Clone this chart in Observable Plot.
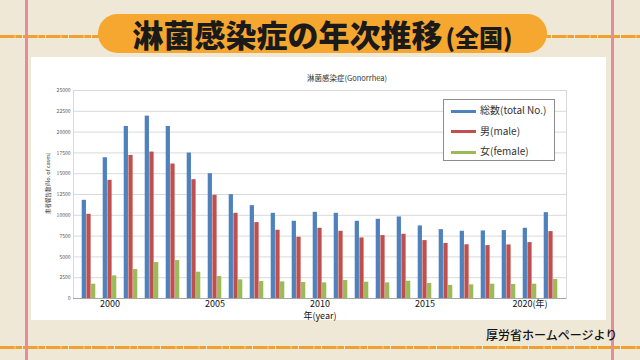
<!DOCTYPE html>
<html><head><meta charset="utf-8">
<script src="https://cdn.jsdelivr.net/npm/d3@7"></script>
<script src="https://cdn.jsdelivr.net/npm/@observablehq/plot@0.6"></script>
<style>
html,body{margin:0;padding:0;}
body{width:640px;height:360px;position:relative;overflow:hidden;background:#efe8d7;font-family:"Noto Sans CJK JP","Noto Sans",sans-serif;}
.vline{position:absolute;top:0;width:3px;height:360px;background:#e58c9c;}
.hline{position:absolute;left:0;width:640px;height:3px;background:repeating-linear-gradient(90deg,#f0a02c 0 14px,#f5b85a 14px 16px,#f0a02c 16px 22px,#efe8d7 22px 23px);}
#pill{position:absolute;left:98px;top:14px;width:449px;height:39px;border-radius:20px;background:#f6a72f;}
#title{position:absolute;left:98px;top:14px;width:449px;height:39px;line-height:39px;text-align:center;font-weight:900;font-size:31px;color:#1a1a1a;white-space:nowrap;}
#title small{font-size:24px;font-weight:900;margin-left:3px;}
#panel{position:absolute;left:31px;top:57px;width:575px;height:263px;background:#fff;}
#chart{position:absolute;left:31px;top:57px;}
#legend{position:absolute;left:443px;top:99px;width:110px;height:60px;border:1px solid #8c8c8c;background:#fff;font-size:10px;color:#333;}
.row{position:absolute;left:7px;height:14px;line-height:14px;white-space:nowrap;}
.sw{display:inline-block;width:25px;height:3px;vertical-align:middle;margin-right:4px;}
#caption{position:absolute;left:486px;top:326px;font-size:12px;font-weight:500;color:#111;white-space:nowrap;}
#ctitle{position:absolute;left:257px;top:72px;width:180px;text-align:center;font-size:7.5px;color:#333;}
#ylab{position:absolute;left:44px;top:214px;font-size:5.5px;color:#333;transform:rotate(-90deg);transform-origin:left top;white-space:nowrap;}
#xlab{position:absolute;left:270px;top:311px;width:100px;height:10px;line-height:10px;text-align:center;font-size:9px;color:#111;}
</style></head>
<body>
<div class="hline" style="top:35px"></div>
<div class="hline" style="top:346px"></div>
<div class="vline" style="left:25px"></div>
<div class="vline" style="left:611px"></div>
<div id="pill"></div>
<div id="title">淋菌感染症の年次推移<small>(全国)</small></div>
<div id="panel"></div>
<div id="chart"></div>
<div id="ctitle">淋菌感染症(Gonorrhea)</div>
<div id="ylab">患者報告数(No. of cases)</div>
<div id="xlab">年(year)</div>
<div id="legend"></div>
<div id="caption">厚労省ホームページより</div>
<script>
const years = [1999,2000,2001,2002,2003,2004,2005,2006,2007,2008,2009,2010,2011,2012,2013,2014,2015,2016,2017,2018,2019,2020,2021];
const total = [11800,16920,20680,21920,20680,17480,15000,12480,11160,10240,9280,10360,10240,9280,9520,9800,8720,8280,8080,8120,8160,8440,10320];
const male = [10120,14200,17200,17600,16160,14280,12400,10240,9120,8200,7360,8440,8080,7280,7560,7720,6960,6620,6460,6360,6440,6720,8040];
const female = [1720,2720,3480,4320,4560,3160,2640,2240,2040,2000,1920,1880,2160,1960,1880,2080,1800,1580,1640,1720,1680,1720,2280];
const seriesNames = ["総数(total No.)","男(male)","女(female)"];
const seriesColors = ["#4f81bd","#c0504d","#9bbb59"];
const yTicks = [0,2500,5000,7500,10000,12500,15000,17500,20000,22500,25000];
const labeledYears = [2000,2005,2010,2015,2020];

const rows = years.map((y,i)=>({year:y,total:total[i],male:male[i],female:female[i]}));

const W = 575, H = 263;
const mL = 42, mR = 40, mT = 33, mB = 22;
const step = (W - mL - mR) / years.length;
const bw = step * 0.218;
const outer = (step - 3*bw)/2;

const keys = ["total","male","female"];
const bars = keys.map((k,j)=>Plot.barY(rows,{
  x:"year", y:k, fill:seriesColors[j],
  insetLeft: outer + j*bw, insetRight: step - outer - (j+1)*bw
}));

const chart = Plot.plot({
  width:W, height:H, marginLeft:mL, marginRight:mR, marginTop:mT, marginBottom:mB,
  style:{background:"transparent", fontFamily:"'Noto Sans CJK JP','Noto Sans',sans-serif"},
  x:{type:"band", domain:years, padding:0, axis:null},
  y:{domain:[0,25000], axis:null},
  marks:[
    Plot.gridY(yTicks,{stroke:"#d9d9d9", strokeOpacity:1}),
    Plot.frame({stroke:"#d9d9d9"}),
    ...bars,
    Plot.ruleY([0],{stroke:"#a6a6a6"}),
    Plot.axisY(yTicks,{tickSize:0, tickPadding:3, fontSize:5, fill:"#555", label:null, tickFormat:d=>String(d)}),
    Plot.axisX(labeledYears,{tickSize:0, tickPadding:2, fontSize:9, fill:"#111", label:null,
      tickFormat:d=> d===2020 ? "2020(年)" : String(d)})
  ]
});
document.getElementById("chart").appendChild(chart);

const lg = document.getElementById("legend");
seriesNames.forEach((n,j)=>{
  const r = document.createElement("div");
  r.className="row";
  r.style.top = (3 + j*20.5) + "px";
  r.innerHTML = `<span class="sw" style="background:${seriesColors[j]}"></span>${n}`;
  lg.appendChild(r);
});
</script>
</body></html>
